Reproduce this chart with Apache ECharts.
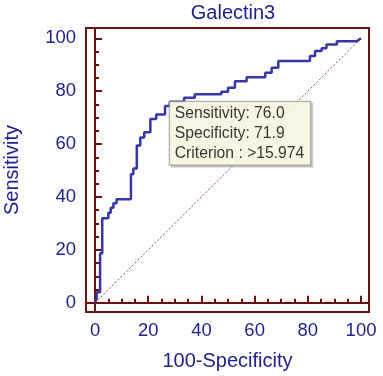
<!DOCTYPE html>
<html>
<head>
<meta charset="utf-8">
<script src="https://cdn.jsdelivr.net/npm/echarts@6/dist/echarts.min.js"></script>
<style>
  html, body { margin: 0; padding: 0; background: #fff; }
  #chart { width: 383px; height: 376px; }
</style>
</head>
<body>
<div id="chart"></div>
<script>
// ROC curve vertices (100-Specificity, Sensitivity)
const fpr = [0, 0.6, 0.6, 1.9, 1.9, 2.7, 2.7, 5, 5, 5.9, 5.9, 6.9, 6.9, 8.1, 8.1, 13.5, 13.5, 14.4, 14.4, 15.7,
  15.7, 17, 17, 18.5, 18.5, 20.8, 20.8, 23, 23, 26.3, 26.3, 28.1, 28.1, 33.5, 33.5, 37.5, 37.5, 47.5, 47.5, 50,
  50, 52.6, 52.6, 57, 57, 64, 64, 66.4, 66.4, 68.9, 68.9, 80.8, 80.8, 82.7, 82.7, 85.2, 85.2, 87, 87, 90.9,
  90.9, 98.4, 98.4, 100];
const tpr = [0, 1.5, 4, 4, 18.7, 18.7, 32, 32, 34, 34, 35.9, 35.9, 37.6, 37.6, 39.1, 39.1, 48.6, 48.6, 50.8, 50.8,
  59.5, 59.5, 62.5, 62.5, 64.5, 64.5, 69.5, 69.5, 71.2, 71.2, 74.4, 74.4, 76.0, 76.0, 77.5, 77.5, 78.8, 78.8, 79.8, 79.8,
  81.3, 81.3, 83.8, 83.8, 85.3, 85.3, 87, 87, 88.9, 88.9, 91.4, 91.4, 93.3, 93.3, 95.2, 95.2, 96.2, 96.2, 97.7, 97.7,
  98.9, 98.9, 99.6, 100];
const diagonal = [[0, 0], [100, 100]];
const majorTicks = [0, 20, 40, 60, 80, 100];
const minorTicks = [5, 10, 15, 25, 30, 35, 45, 50, 55, 65, 70, 75, 85, 90, 95];
const criterionPoint = [28.1, 76.0];
const criterionText = ['Sensitivity: 76.0', 'Specificity: 71.9', 'Criterion : >15.974'];

const frameColor = '#6B1010';
const textColor = '#1E1E8C';
const font = 'Liberation Sans, Arial, sans-serif';

const rocData = fpr.map((x, i) => [x, tpr[i]]);

const majorAxis = (extra) => Object.assign({
  type: 'value',
  min: -3.4,
  splitLine: { show: false },
  axisLine: { show: true, lineStyle: { color: frameColor, width: 2 } },
  axisTick: { show: true, inside: true, length: 7, customValues: majorTicks, lineStyle: { color: frameColor, width: 2 } },
  axisLabel: { customValues: majorTicks, color: textColor, fontSize: 18.5, fontFamily: font },
  nameLocation: 'middle',
  nameTextStyle: { color: textColor, fontSize: 20, fontFamily: font }
}, extra);

const minorAxis = (extra) => Object.assign({
  type: 'value',
  min: -3.4,
  splitLine: { show: false },
  axisLine: { show: false },
  axisTick: { show: true, inside: true, length: 4, customValues: minorTicks, lineStyle: { color: frameColor, width: 2 } },
  axisLabel: { show: false }
}, extra);

const chart = echarts.init(document.getElementById('chart'));
chart.setOption({
  animation: false,
  backgroundColor: '#fff',
  title: {
    text: 'Galectin3',
    left: 228,
    top: -2,
    textAlign: 'center',
    textStyle: { color: textColor, fontSize: 20, fontWeight: 'normal', fontFamily: font }
  },
  grid: {
    left: 86, top: 28, right: 14, bottom: 64,
    outerBoundsMode: 'none',
    show: true, borderColor: frameColor, borderWidth: 2
  },
  xAxis: [
    majorAxis({ max: 103, name: '100-Specificity', nameGap: 39, axisLabel: { customValues: majorTicks, color: textColor, fontSize: 18.5, fontFamily: font, margin: 9 } }),
    minorAxis({ max: 103, position: 'bottom' })
  ],
  yAxis: [
    majorAxis({ min: -3.5, max: 103.9, name: 'Sensitivity', nameGap: 64, axisLabel: { customValues: majorTicks, color: textColor, fontSize: 18.5, fontFamily: font, margin: 10 } }),
    minorAxis({ min: -3.5, max: 103.9, position: 'left' })
  ],
  series: [
    {
      type: 'line',
      data: diagonal,
      showSymbol: false,
      lineStyle: { color: '#A0504E', width: 1, type: [2, 2] },
      z: 1
    },
    {
      type: 'line',
      data: rocData,
      showSymbol: false,
      lineStyle: { color: '#3636A6', width: 2.5 },
      z: 2
    },
    {
      type: 'scatter',
      data: [criterionPoint],
      symbolSize: 0,
      z: 10,
      label: {
        show: true,
        position: [0, 0],
        align: 'left',
        verticalAlign: 'top',
        formatter: criterionText.join('\n'),
        color: '#000',
        fontSize: 15.7,
        fontFamily: font,
        lineHeight: 20,
        backgroundColor: '#FFFFE6',
        borderColor: '#8A8A8A',
        borderWidth: 1,
        padding: [2, 6, 1, 5],
        shadowColor: 'rgba(150,150,150,0.5)',
        shadowOffsetX: 2,
        shadowOffsetY: 2,
        shadowBlur: 0
      }
    }
  ]
});
</script>
</body>
</html>
